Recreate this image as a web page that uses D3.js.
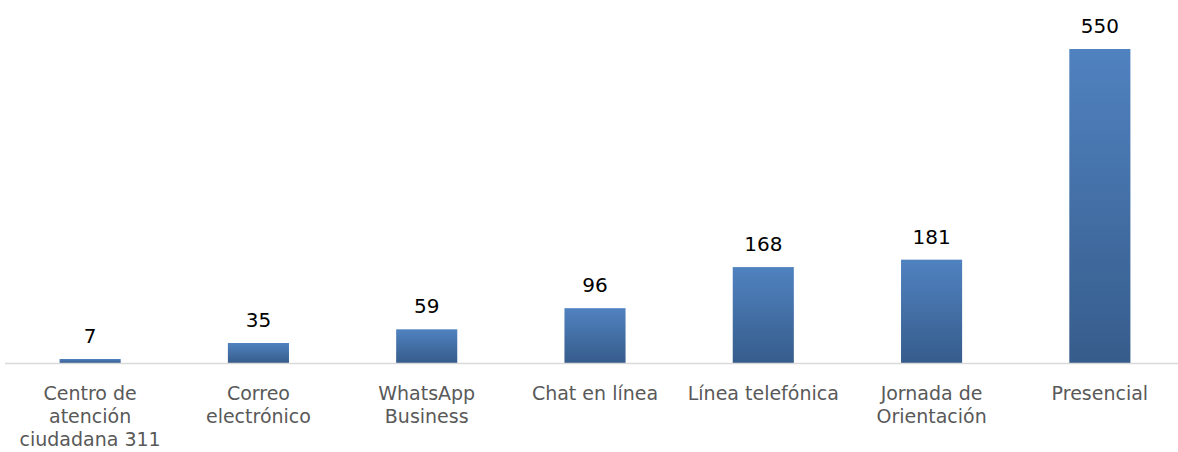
<!DOCTYPE html>
<html><head><meta charset="utf-8">
<script src="https://cdn.jsdelivr.net/npm/d3@7"></script>
<style>body{margin:0;background:#fff}svg{display:block}</style>
</head><body>
<svg id="c" width="1178" height="452"></svg>
<script>
const categories = [["Centro de","atención","ciudadana 311"],["Correo","electrónico"],["WhatsApp","Business"],["Chat en línea"],["Línea telefónica"],["Jornada de","Orientación"],["Presencial"]];
const values = [7,35,59,96,168,181,550];

const svg = d3.select("#c");
const baseY = 363, topY = 49;
const x = d3.scaleBand().domain(d3.range(values.length)).range([6,1184]).paddingInner(0.637).paddingOuter(0.3185);
const y = d3.scaleLinear().domain([0,550]).range([baseY, topY]);

const defs = svg.append("defs");
const g = defs.append("linearGradient").attr("id","gr").attr("x1",0).attr("y1",0).attr("x2",0).attr("y2",1);
g.append("stop").attr("offset","0%").attr("stop-color","#5082c0");
g.append("stop").attr("offset","100%").attr("stop-color","#365c8b");

svg.selectAll("rect.bar").data(values).join("rect").attr("class","bar")
  .attr("x",(d,i)=>x(i)).attr("width",x.bandwidth())
  .attr("y",d=>y(d)).attr("height",d=>baseY-y(d)).attr("fill","url(#gr)");

svg.append("line").attr("x1",5).attr("x2",1178).attr("y1",baseY+0.5).attr("y2",baseY+0.5).attr("stroke","#d9d9d9").attr("stroke-width",1.5);

svg.selectAll("text.val").data(values).join("text").attr("class","val")
  .attr("x",(d,i)=>x(i)+x.bandwidth()/2).attr("y",d=>y(d)-16)
  .attr("text-anchor","middle").attr("font-family","DejaVu Sans").attr("font-size",20).attr("fill","#000")
  .text(d=>d);

const lab = svg.selectAll("text.cat").data(categories).join("text").attr("class","cat")
  .attr("text-anchor","middle").attr("font-family","DejaVu Sans").attr("font-size",19).attr("fill","#595959");
lab.each(function(d,i){
  const t=d3.select(this);
  d.forEach((line,j)=>t.append("tspan").attr("x",x(i)+x.bandwidth()/2).attr("y",400+j*23).text(line));
});
</script>
</body></html>
